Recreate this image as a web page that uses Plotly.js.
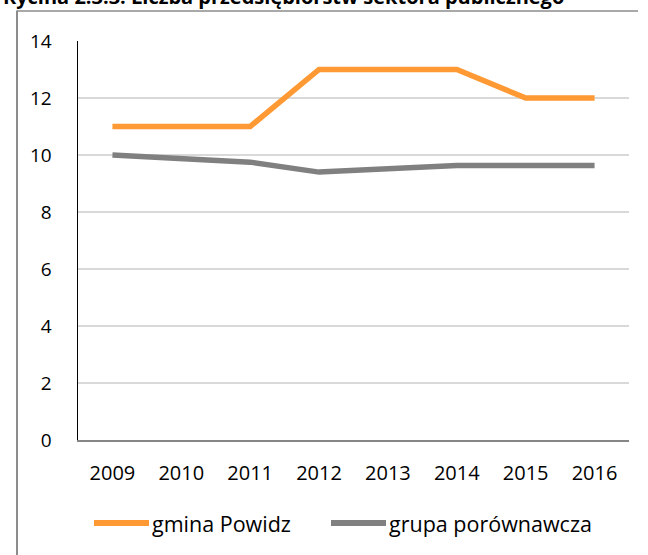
<!DOCTYPE html>
<html><head><meta charset="utf-8">
<script src="https://cdn.plot.ly/plotly-3.0.1.min.js"></script>
<style>html,body{margin:0;padding:0;background:#fff}#chart{width:648px;height:555px}</style>
</head><body><div id="chart"></div>
<script>
const years = ['2009','2010','2011','2012','2013','2014','2015','2016'];
const gminaPowidz = [11, 11, 11, 13, 13, 13, 12, 12];
const grupaPorownawcza = [10, 9.87, 9.75, 9.4, 9.52, 9.63, 9.63, 9.63];
const yTicks = [0, 2, 4, 6, 8, 10, 12, 14];
const seriesNames = ['gmina Powidz', 'grupa porównawcza'];
const seriesColors = ['#FF9933', '#808080'];
const titleText = 'Rycina 2.3.3. Liczba przedsiębiorstw sektora publicznego';

const L = 78, R = 19, T = 40.5, B = 115;
const W = 648, H = 555;
const pw = W - L - R, ph = H - T - B;
const px = x => (x - L) / pw;
const py = y => (H - B - y) / ph;

const font = 'Open Sans, Noto Sans, sans-serif';
const traces = [
  {x: years, y: gminaPowidz, name: seriesNames[0], mode: 'lines', type: 'scatter',
   line: {color: seriesColors[0], width: 5.5}},
  {x: years, y: grupaPorownawcza, name: seriesNames[1], mode: 'lines', type: 'scatter',
   line: {color: seriesColors[1], width: 5.5}}
];
const legY = 523;
const legItems = [{x0: 94, x1: 149, tx: 151}, {x0: 331, x1: 386, tx: 388}];
const shapes = [
  {type: 'line', xref: 'paper', yref: 'paper', x0: px(17), x1: px(17), y0: py(10), y1: py(560),
   line: {color: '#8c8c8c', width: 2}},
  {type: 'line', xref: 'paper', yref: 'paper', x0: px(17), x1: px(638), y0: py(10.5), y1: py(10.5),
   line: {color: '#8c8c8c', width: 1.5}}
];
const annotations = [
  {text: '<b>' + titleText + '</b>', xref: 'paper', yref: 'paper', x: px(1), xanchor: 'left',
   y: py(11), yanchor: 'bottom', showarrow: false, font: {family: font, size: 20, color: '#000'}}
];
legItems.forEach((it, i) => {
  shapes.push({type: 'line', xref: 'paper', yref: 'paper', x0: px(it.x0), x1: px(it.x1),
    y0: py(legY), y1: py(legY), line: {color: seriesColors[i], width: 6}});
  annotations.push({text: seriesNames[i], xref: 'paper', yref: 'paper', x: px(it.tx), xanchor: 'left',
    y: py(legY + 1), yanchor: 'middle', showarrow: false, borderpad: 0,
    font: {family: font, size: 21.5, color: '#000'}});
});
const layout = {
  width: W, height: H,
  margin: {l: L, r: R, t: T, b: B, pad: 0},
  paper_bgcolor: '#fff', plot_bgcolor: '#fff',
  font: {family: font, size: 20, color: '#000'},
  showlegend: false,
  xaxis: {type: 'category', range: [-0.5, 7.5], showgrid: false, showline: true, linecolor: '#868686', linewidth: 1.5,
          ticks: '', ticklabelstandoff: 14, tickfont: {family: font, size: 20}},
  yaxis: {range: [0, 14], tickvals: yTicks, ticktext: yTicks.map(String), showgrid: true,
          gridcolor: '#d9d9d9', gridwidth: 1.5, showline: true, linecolor: '#000', linewidth: 1.5,
          zeroline: false, ticks: '', ticklabelstandoff: 21, tickfont: {family: font, size: 19}},
  shapes: shapes,
  annotations: annotations
};
Plotly.newPlot('chart', traces, layout, {displayModeBar: false, staticPlot: true});
</script></body></html>
